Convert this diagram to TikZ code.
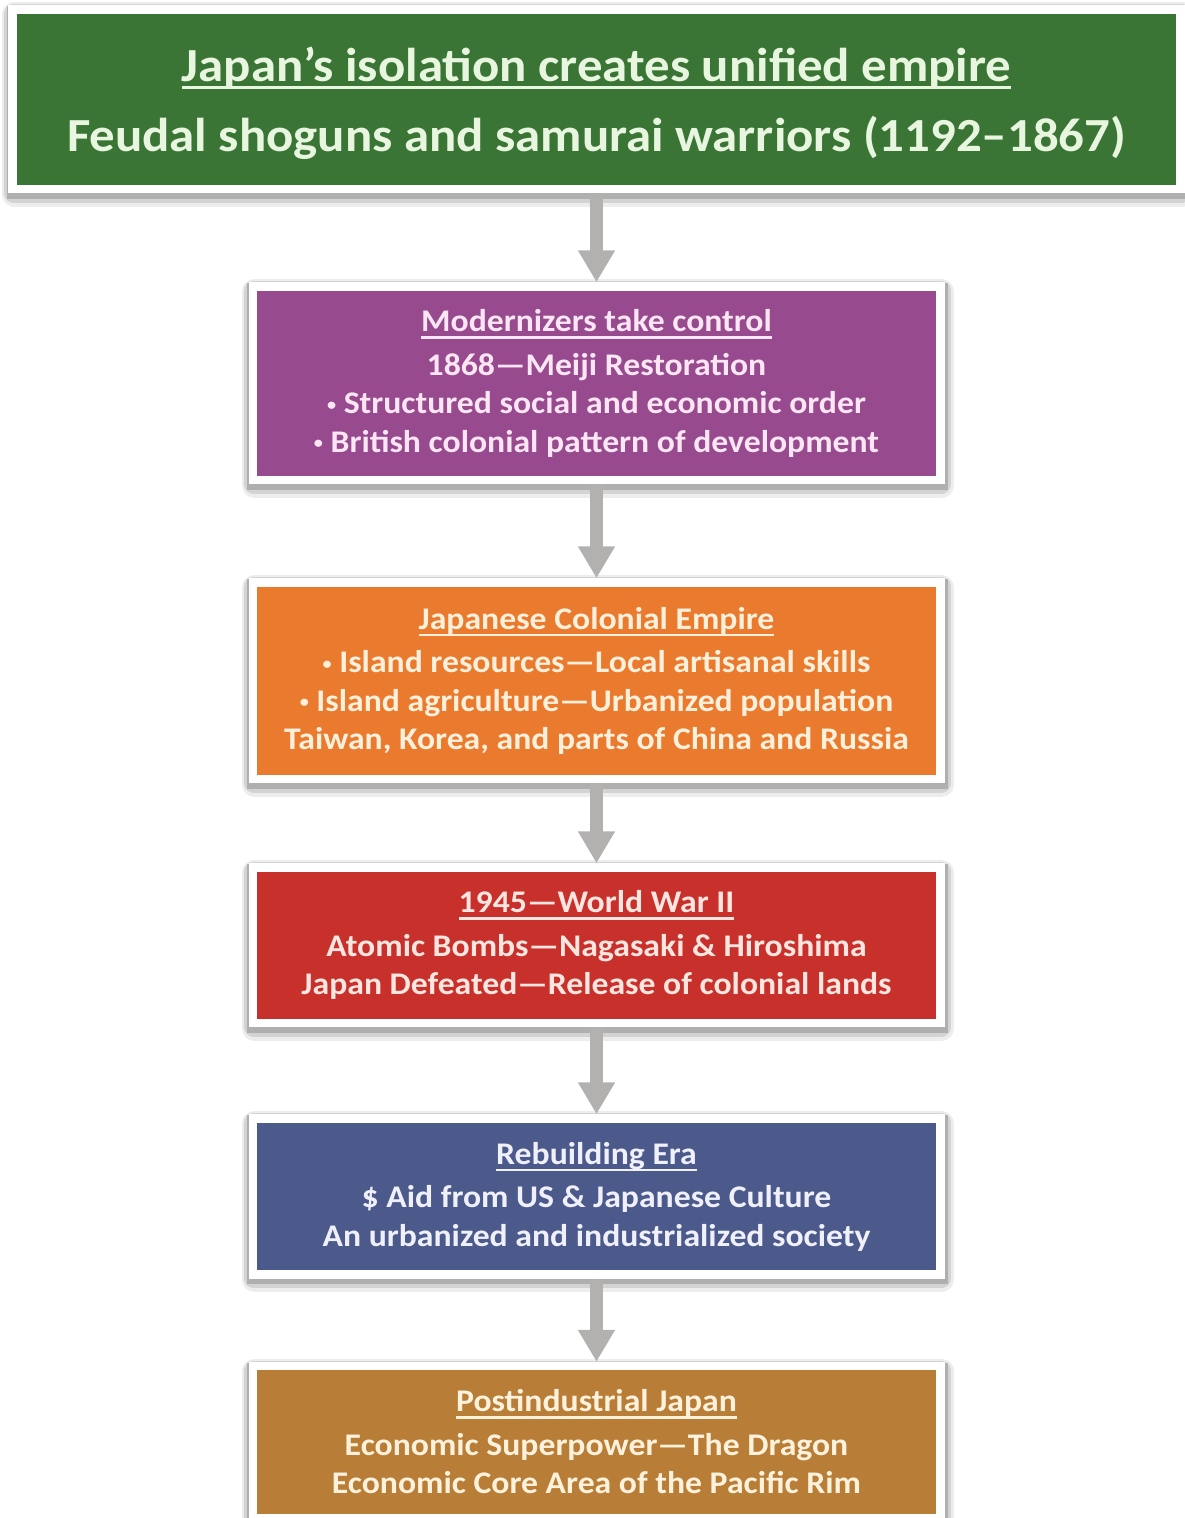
\documentclass[tikz,border=0pt]{standalone}
\usepackage{fontspec}
\setmainfont{Carlito}[FakeStretch=1.07]
\usepackage{tikz}
\usetikzlibrary{arrows.meta, positioning}
\definecolor{eraGreen}{HTML}{3A7536}
\definecolor{eraPurple}{HTML}{974A8E}
\definecolor{eraOrange}{HTML}{E97A2E}
\definecolor{eraRed}{HTML}{C8302C}
\definecolor{eraBlue}{HTML}{4B5A8B}
\definecolor{eraBrown}{HTML}{B87D37}
\definecolor{txtGreen}{HTML}{E8F6DF}
\definecolor{txtPurple}{HTML}{FCE6F4}
\definecolor{txtOrange}{HTML}{FFF0DC}
\definecolor{txtRed}{HTML}{FDE6E0}
\definecolor{txtBlue}{HTML}{F0F0FA}
\definecolor{txtBrown}{HTML}{FFF2DC}
\definecolor{arrowGray}{HTML}{B3B0B0}
% underlined heading line
\newcommand{\hdl}[1]{\setbox0=\hbox{#1}\rlap{\vrule width \wd0 height -4.5pt depth 7pt}\box0}
% small bullet
\newcommand{\bul}{\raisebox{3.5pt}{\fontsize{17}{17}\selectfont•}\ }

\begin{document}
\begin{tikzpicture}[
    era/.style={draw=white, line width=8.5pt, inner sep=0pt, align=center,
                minimum width=687.5pt,
                font=\bfseries\fontsize{31.5}{38.5}\selectfont,
                preaction={draw=black, fill=none, draw opacity=0.07,
                           line width=25pt, line join=round,
                           transform canvas={xshift=1.5pt, yshift=-5pt}},
                preaction={draw=black, fill=none, draw opacity=0.11,
                           line width=19pt, line join=round,
                           transform canvas={xshift=1pt, yshift=-4pt}},
                preaction={draw=black, fill=none, draw opacity=0.17,
                           line width=13pt,
                           transform canvas={xshift=1pt, yshift=-3pt}}},
    arrow/.style={draw=arrowGray, line width=13pt,
                  -{Triangle[width=35pt, length=32pt]}},
]
\useasboundingbox (0,0) rectangle (1184pt,-1518pt);

% Eras from top to bottom
\node[era, fill=eraGreen, text=txtGreen, minimum width=1168pt,
      minimum height=179.5pt, font=\bfseries\fontsize{47.5}{70}\selectfont]
    (iso) at (596.5pt,-99.25pt)
    {\hdl{Japan’s isolation creates unified empire}\\
     \smash{Feudal shoguns and samurai warriors (1192–1867)}};
\node[era, fill=eraPurple, text=txtPurple, minimum height=193.5pt,
      below=89pt of iso]
    (meiji) {\hdl{Modernizers take control}\\[5pt]
             1868—Meiji Restoration\\
             \bul Structured social and economic order\\
             \bul British colonial pattern of development};
\node[era, fill=eraOrange, text=txtOrange, minimum height=196.5pt,
      below=94pt of meiji]
    (colony) {\hdl{Japanese Colonial Empire}\\[5pt]
              \bul Island resources—Local artisanal skills\\
              \bul Island agriculture—Urbanized population\\
              Taiwan, Korea, and parts of China and Russia};
\node[era, fill=eraRed, text=txtRed, minimum height=155.5pt,
      below=80pt of colony]
    (war) {\hdl{1945—World War II}\\[5pt]
           Atomic Bombs—Nagasaki \& Hiroshima\\
           Japan Defeated—Release of colonial lands};
\node[era, fill=eraBlue, text=txtBlue, minimum height=156pt,
      below=87pt of war]
    (rebuild) {\hdl{Rebuilding Era}\\[5pt]
               \$ Aid from US \& Japanese Culture\\
               An urbanized and industrialized society};
\node[era, fill=eraBrown, text=txtBrown, minimum height=152pt,
      below=83pt of rebuild]
    (post) {\hdl{Postindustrial Japan}\\[5pt]
            Economic Superpower—The Dragon\\
            Economic Core Area of the Pacific Rim};

\draw[arrow] (iso) -- (meiji);
\draw[arrow] (meiji) -- (colony);
\draw[arrow] (colony) -- (war);
\draw[arrow] (war) -- (rebuild);
\draw[arrow] (rebuild) -- (post);
\end{tikzpicture}
\end{document}
